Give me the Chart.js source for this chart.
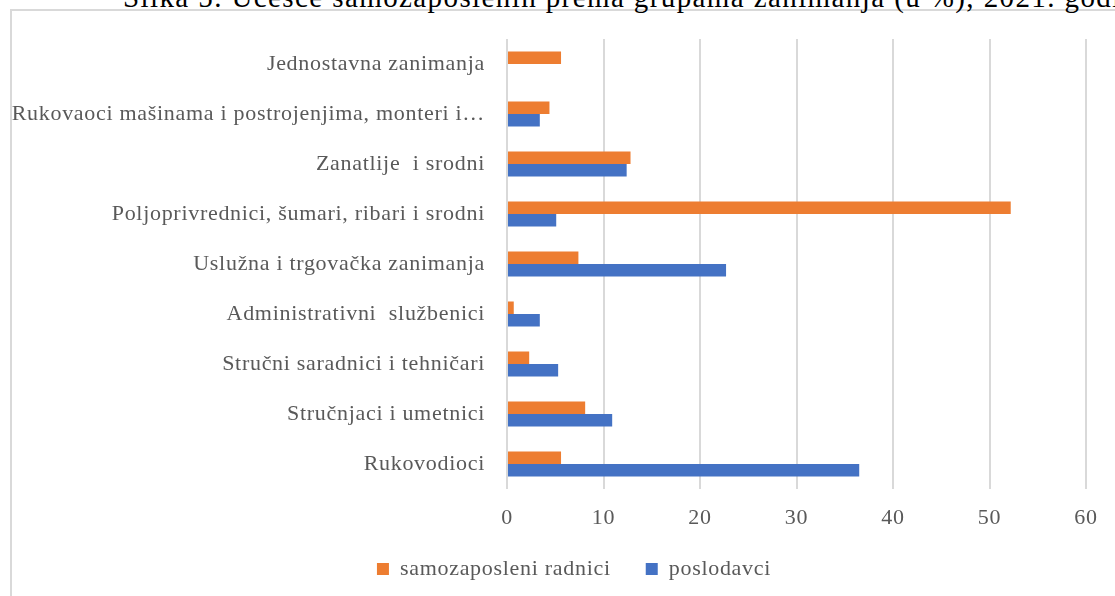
<!DOCTYPE html>
<html>
<head>
<meta charset="utf-8">
<script src="https://cdn.jsdelivr.net/npm/chart.js@4.4.0/dist/chart.umd.min.js"></script>
<style>
  html, body { margin: 0; padding: 0; background: #fff; overflow: hidden; }
  #wrap { position: relative; width: 1115px; height: 596px; overflow: hidden; }
  #title { position: absolute; left: 123px; top: -19px; white-space: nowrap; line-height: 32px;
           font-family: "Liberation Serif", serif; font-size: 29px; letter-spacing: 1.4px; color: #000; }
  #frame { position: absolute; left: 10px; top: 9px; width: 1200px; height: 700px;
           border-left: 2px solid #d9d9d9; border-top: 2px solid #d9d9d9; background: #fff; }
  canvas { position: absolute; left: 0; top: 0; }
</style>
</head>
<body>
<div id="wrap">
  <div id="frame"></div>
  <div id="title">Slika 5. Učešće samozaposlenih prema grupama zanimanja (u %), 2021. godina</div>
  <canvas id="c" width="1115" height="596"></canvas>
</div>
<script>
const categories = [
  "Jednostavna zanimanja",
  "Rukovaoci mašinama i postrojenjima, monteri i…",
  "Zanatlije  i srodni",
  "Poljoprivrednici, šumari, ribari i srodni",
  "Uslužna i trgovačka zanimanja",
  "Administrativni  službenici",
  "Stručni saradnici i tehničari",
  "Stručnjaci i umetnici",
  "Rukovodioci"
];
const seriesNames = ["samozaposleni radnici", "poslodavci"];
const samozaposleni = [5.6, 4.4, 12.8, 52.2, 7.4, 0.7, 2.3, 8.1, 5.6];
const poslodavci = [null, 3.4, 12.4, 5.1, 22.7, 3.4, 5.3, 10.9, 36.5];
const xTicks = [0, 10, 20, 30, 40, 50, 60];

const serif = "'Liberation Serif', 'Times New Roman', serif";
const SPACING = '0.7px';
const spacingPlugin = {
  id: 'spacing',
  beforeInit(chart) { chart.ctx.letterSpacing = SPACING; },
  beforeUpdate(chart) { chart.ctx.letterSpacing = SPACING; },
  beforeDraw(chart) { chart.ctx.letterSpacing = SPACING; }
};
const legendShift = {
  id: 'legendShift',
  afterLayout(chart) {
    const lg = chart.legend;
    if (!lg) return;
    const h = lg.height;
    lg.left = 62;
    lg.top = 523;
    lg.bottom = lg.top + h;
  }
};

new Chart(document.getElementById('c'), {
  type: 'bar',
  data: {
    labels: categories,
    datasets: [
      { label: seriesNames[0], data: samozaposleni, backgroundColor: '#ED7D31',
        categoryPercentage: 0.5, barPercentage: 1.0 },
      { label: seriesNames[1], data: poslodavci, backgroundColor: '#4472C4',
        categoryPercentage: 0.5, barPercentage: 1.0 }
    ]
  },
  options: {
    indexAxis: 'y',
    responsive: false,
    animation: false,
    devicePixelRatio: 1,
    layout: { padding: { top: 39, right: 29, left: 0, bottom: 0 } },
    scales: {
      x: {
        min: 0, max: 60,
        afterBuildTicks(scale) { scale.ticks = xTicks.map(v => ({ value: v })); },
        afterFit(scale) { scale.height = 40; },
        grid: { color: '#d9d9d9', lineWidth: 2, drawTicks: false },
        border: { display: false },
        ticks: { padding: 16, color: '#595959', font: { family: serif, size: 22 } }
      },
      y: {
        afterFit(scale) { scale.width = 507; },
        grid: { display: false, drawTicks: false },
        border: { display: false },
        ticks: { padding: 22, color: '#595959', font: { family: serif, size: 22 }, autoSkip: false }
      }
    },
    plugins: {
      legend: {
        position: 'bottom',
        labels: { boxWidth: 12, boxHeight: 12, padding: 35, color: '#595959',
                  font: { family: serif, size: 22 } }
      },
      tooltip: { enabled: false }
    }
  },
  plugins: [spacingPlugin, legendShift]
});
</script>
</body>
</html>
